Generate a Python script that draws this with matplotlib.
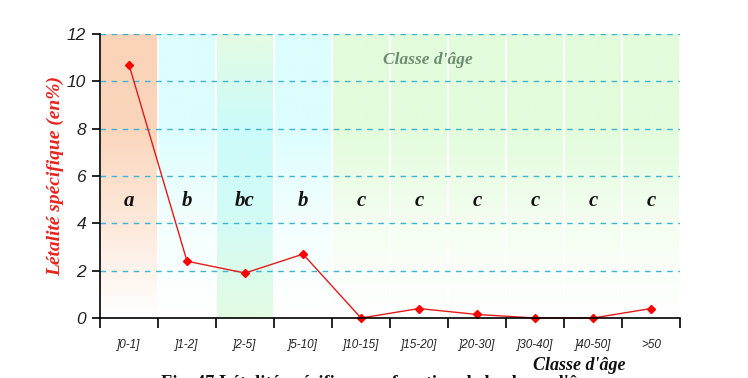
import numpy as np
import matplotlib.pyplot as plt
from matplotlib.colors import LinearSegmentedColormap

# data
categories = [']0-1]', ']1-2]', ']2-5]', ']5-10]', ']10-15]', ']15-20]',
              ']20-30]', ']30-40]', ']40-50]', '>50']
letality = [10.7, 2.4, 1.9, 2.7, 0.0, 0.4, 0.15, 0.0, 0.0, 0.4]
groups = ['a', 'b', 'bc', 'b', 'c', 'c', 'c', 'c', 'c', 'c']

# background column styles (bottom -> top colours)
peach = ['#ffffff', '#fde9db', '#fbd6bc', '#fad3b8']
cyan = ['#ffffff', '#f2fffe', '#dcfefd', '#dcfefd']
green = ['#ffffff', '#f4fef1', '#e2fcdc', '#e2fcdc']
mixed = ['#e4fbe2', '#d4fbf4', '#cbfbfb', '#e4fbe2']
col_styles = [peach, cyan, mixed, cyan, green, green, green, green, green, green]

plt.rcParams['font.family'] = ['Liberation Sans', 'DejaVu Sans']

fig = plt.figure(figsize=(7.48, 3.78), dpi=100)
ax = fig.add_axes([0.1337, 0.1587, 0.9091 - 0.1337, 0.91 - 0.1587])

x = np.arange(len(categories))

for i, cols in enumerate(col_styles):
    cmap = LinearSegmentedColormap.from_list('c%d' % i, cols)
    grad = np.linspace(0, 1, 256).reshape(-1, 1)
    y0 = -0.2 if cols is mixed else 0.0
    ax.imshow(grad, cmap=cmap, aspect='auto', origin='lower',
              extent=(i - 0.5 + 0.02, i + 0.5 - 0.02, y0, 12),
              zorder=0, interpolation='bicubic')

ax.set_xlim(-0.5, len(categories) - 0.5)
ax.set_ylim(0, 12)

for yv in range(2, 13, 2):
    ax.axhline(yv, color='#3bb4d6', lw=1.0, ls=(0, (4, 4)), zorder=1)

ax.plot(x, letality, color='#e41a1a', lw=1.0, marker='D', ms=4.5,
        mfc='red', mec='red', zorder=3, clip_on=False)

for i, g in enumerate(groups):
    ax.text(i, 4.95, g, ha='center', va='center', fontsize=15,
            family='Liberation Serif', style='italic', weight='bold',
            color='#111111', zorder=4)

ax.text(0.565, 0.91, "Classe d'âge", transform=ax.transAxes, ha='center',
        va='center', fontsize=12.5, family='Liberation Serif', style='italic',
        weight='bold', color='#6e8c72', zorder=4)

# axes styling
for s in ['top', 'right']:
    ax.spines[s].set_visible(False)
ax.spines['left'].set_linewidth(1.2)
ax.spines['bottom'].set_linewidth(1.2)
ax.spines['left'].set_zorder(5)
ax.spines['bottom'].set_zorder(5)

ax.set_yticks(range(0, 13, 2))
ax.set_yticklabels([str(v) for v in range(0, 13, 2)], fontsize=12.5,
                   style='italic', color='#222222')
ax.tick_params(axis='y', direction='out', length=6, width=1.2, pad=4)

ax.set_xticks(np.arange(-0.5, len(categories), 1.0))
ax.set_xticklabels([])
ax.set_xticks(x, minor=True)
ax.set_xticklabels(categories, minor=True, fontsize=8.5, style='italic',
                   color='#222222')
ax.tick_params(axis='x', which='major', direction='out', length=7, width=1.2)
ax.tick_params(axis='x', which='minor', length=0, pad=15)

ax.set_ylabel('Létalité spécifique (en%)', family='Liberation Serif',
              style='italic', weight='bold', color='#e8231e', fontsize=14,
              labelpad=2)

fig.text(0.775, 1 - 365 / 378, "Classe d'âge", ha='center', va='center',
         fontsize=13, family='Liberation Serif', style='italic', weight='bold',
         color='#111111')

# caption, cut by the bottom edge as in the source
fig.text(161 / 748, 1 - 375.5 / 378,
         "Fig. 47 Létalité spécifique en fonction de la classe d'âge",
         ha='left', va='top', fontsize=13.3, family='Liberation Serif',
         weight='bold', color='#111111')

fig.savefig('out.png', dpi=100)
